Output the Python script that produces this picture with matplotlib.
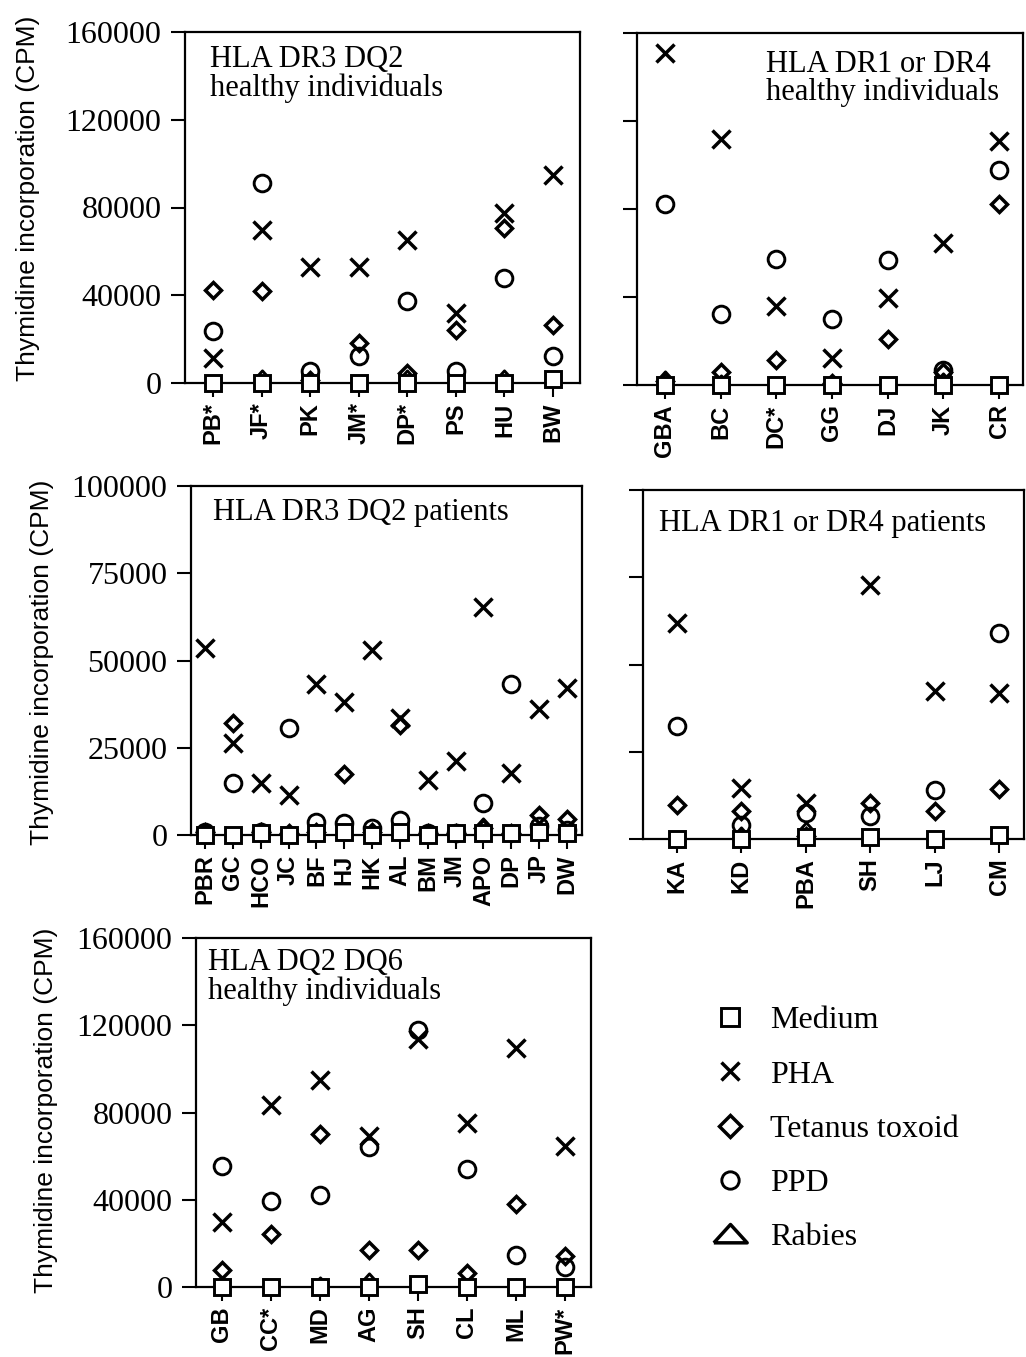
import numpy as np
import matplotlib
matplotlib.use('Agg')
import matplotlib.pyplot as plt
from matplotlib.lines import Line2D
from matplotlib import font_manager as fm

# ---------------- data ----------------
# Panel 1: HLA DR3 DQ2 healthy individuals
p1_names = ['PB*', 'JF*', 'PK', 'JM*', 'DP*', 'PS', 'HU', 'BW']
p1_medium = [0, 0, 0, 0, 0, 0, 0, 1800]
p1_pha = [11400, 69800, 53100, 53100, 65200, 31900, 77400, 94800]
p1_tet = [42500, 42000, 1500, 18200, 4500, 24300, 70500, 26500]
p1_ppd = [23500, 91000, 5500, 12100, 37200, 5500, 47800, 12100]
p1_rab = [500, 3500, 1500, 1000, 3500, 1000, 3500, 1000]

# Panel 2: HLA DR1 or DR4 healthy individuals
p2_names = ['GBA', 'BC', 'DC*', 'GG', 'DJ', 'JK', 'CR']
p2_medium = [0, 0, 0, 0, 0, 0, 0]
p2_pha = [151000, 112000, 36000, 12500, 39400, 64400, 111000]
p2_tet = [2000, 6000, 11500, 1000, 21100, 6000, 82400]
p2_ppd = [82400, 32100, 57300, 29800, 57000, 7000, 97700]
p2_rab = [4000, 2500, 500, 1500, 500, 3000, 1500]

# Panel 3: HLA DR3 DQ2 patients
p3_names = ['PBR', 'GC', 'HCO', 'JC', 'BF', 'HJ', 'HK', 'AL', 'BM', 'JM',
            'APO', 'DP', 'JP', 'DW']
p3_medium = [0, 0, 500, 0, 500, 800, 0, 800, 0, 500, 500, 500, 800, 500]
p3_pha = [53500, 26500, 14800, 11400, 43300, 38100, 53000, 33600, 15900,
          21300, 65400, 17700, 36000, 42100]
p3_tet = [1000, 32200, 1000, 500, 1000, 17500, 1000, 31500, 500, 500,
          2000, 500, 5700, 4700]
p3_ppd = [1000, 14800, 1000, 30600, 3800, 3500, 2000, 4200, 500, 500,
          9200, 43300, 2500, 1500]
p3_rab = [1500, 500, 2000, 1200, 1500, 1000, 500, 500, 500, 500,
          3500, 500, 1000, 500]

# Panel 4: HLA DR1 or DR4 patients
p4_names = ['KA', 'KD', 'PBA', 'SH', 'LJ', 'CM']
p4_medium = [0, 0, 500, 500, 0, 1250]
p4_pha = [61900, 14700, 10400, 72900, 42300, 41900]
p4_tet = [9600, 8000, 1000, 10400, 8000, 14400]
p4_ppd = [32500, 4000, 7500, 6500, 14000, 59000]
p4_rab = [500, 2000, 3500, 1000, 500, 500]

# Panel 5: HLA DQ2 DQ6 healthy individuals
p5_names = ['GB', 'CC*', 'MD', 'AG', 'SH', 'CL', 'ML', 'PW*']
p5_medium = [0, 0, 0, 0, 1500, 0, 0, 0]
p5_pha = [29800, 83600, 95000, 69200, 113800, 75200, 109700, 64500]
p5_tet = [7600, 24400, 70300, 16800, 17100, 6400, 38200, 14000]
p5_ppd = [55300, 39400, 42000, 64200, 117700, 54200, 14500, 9200]
p5_rab = [1000, 500, 2500, 4000, 500, 1500, 1500, 1000]

yticks_160 = [0, 40000, 80000, 120000, 160000]
yticks_100 = [0, 25000, 50000, 75000, 100000]
legend_labels = ['Medium', 'PHA', 'Tetanus toxoid', 'PPD', 'Rabies']
ylabel_text = 'Thymidine incorporation (CPM)'

# ---------------- style ----------------
names_avail = {f.name for f in fm.fontManager.ttflist}
if 'Liberation Sans Narrow' in names_avail:
    SANS = 'Liberation Sans Narrow'
    tick_fs = 20
    ylab_fs = 23
else:
    SANS = 'Liberation Sans'
    tick_fs = 17
    ylab_fs = 19
SERIF = 'Liberation Serif'

W, H = 1026, 1357
DPI = 100
fig = plt.figure(figsize=(W / DPI, H / DPI), dpi=DPI)
fig.patch.set_facecolor('white')

TRI = [(-1, -0.5), (1, -0.5), (0, 0.6), (-1, -0.5)]


def rect_px(left, right, top, bottom):
    return [left / W, 1 - bottom / H, (right - left) / W, (bottom - top) / H]


def panel(rect, names, med, pha, tet, ppd, rab, yticks, xlim, show_ylabels,
          title, tx, ty):
    ax = fig.add_axes(rect)
    x = np.arange(len(names))
    common = dict(ls='none', color='k', clip_on=False)
    ax.plot(x, pha, marker='x', ms=12.5, mew=2.5, zorder=4, **common)
    ax.plot(x, tet, marker='D', ms=8.5, mew=2.5, mfc='none', mec='k', zorder=4, **common)
    ax.plot(x, ppd, marker='o', ms=12, mew=2.1, mfc='none', mec='k', zorder=4, **common)
    ax.plot(x, rab, marker=TRI, ms=11, mew=2.1, mfc='none', mec='k', zorder=4, **common)
    ax.plot(x, med, marker='s', ms=11.5, mew=2.1, mfc='white', mec='k', zorder=5, **common)
    ax.set_xlim(*xlim)
    ax.set_ylim(yticks[0], yticks[-1])
    ax.set_xticks(x)
    ax.set_xticklabels(names, rotation=90, fontfamily=SANS, fontsize=tick_fs,
                       fontweight='bold')
    ax.set_yticks(yticks)
    if show_ylabels:
        ax.set_yticklabels([str(v) for v in yticks], fontfamily=SERIF, fontsize=23)
    else:
        ax.set_yticklabels([])
    ax.tick_params(axis='both', direction='out', length=10, width=1.5, color='k')
    ax.tick_params(axis='y', pad=7)
    ax.tick_params(axis='x', pad=4)
    for s in ax.spines.values():
        s.set_linewidth(1.6)
    ax.text(tx, ty, title, transform=ax.transAxes, ha='left', va='top',
            fontfamily=SERIF, fontsize=22, linespacing=0.95)
    return ax


panel(rect_px(185, 580, 32, 383), p1_names, p1_medium, p1_pha, p1_tet, p1_ppd,
      p1_rab, yticks_160, (-0.576, 7.556), True,
      'HLA DR3 DQ2\nhealthy individuals', 0.063, 0.962)
panel(rect_px(637, 1023, 33, 385), p2_names, p2_medium, p2_pha, p2_tet, p2_ppd,
      p2_rab, yticks_160, (-0.50, 6.43), False,
      'HLA DR1 or DR4\nhealthy individuals', 0.334, 0.952)
panel(rect_px(191, 582, 486, 835), p3_names, p3_medium, p3_pha, p3_tet, p3_ppd,
      p3_rab, yticks_100, (-0.503, 13.54), True,
      'HLA DR3 DQ2 patients', 0.056, 0.965)
panel(rect_px(643, 1024, 490, 839), p4_names, p4_medium, p4_pha, p4_tet, p4_ppd,
      p4_rab, yticks_100, (-0.526, 5.387), False,
      'HLA DR1 or DR4 patients', 0.042, 0.945)
panel(rect_px(196, 591, 938, 1287), p5_names, p5_medium, p5_pha, p5_tet, p5_ppd,
      p5_rab, yticks_160, (-0.524, 7.53), True,
      'HLA DQ2 DQ6\nhealthy individuals', 0.03, 0.97)

# y-axis labels
for (xc, yc) in [(28, 198), (42, 662), (46, 1110)]:
    fig.text(xc / W, 1 - yc / H, ylabel_text, rotation=90, ha='center', va='center',
             fontfamily=SANS, fontsize=ylab_fs)

# legend
handles = [
    Line2D([], [], ls='none', marker='s', ms=12.5, mew=2.1, mfc='white', mec='k'),
    Line2D([], [], ls='none', marker='x', ms=12.5, mew=2.5, color='k'),
    Line2D([], [], ls='none', marker='D', ms=11, mew=2.5, mfc='none', mec='k'),
    Line2D([], [], ls='none', marker='o', ms=12.5, mew=2.1, mfc='none', mec='k'),
    Line2D([], [], ls='none', marker=TRI, ms=24, mew=2.5, mfc='none', mec='k'),
]
leg = fig.legend(handles, legend_labels, loc='upper left',
                 bbox_to_anchor=(714 / W, 1 - 1006 / H), frameon=False,
                 prop={'family': SERIF, 'size': 23}, handlelength=1.0,
                 handletextpad=0.75, labelspacing=0.78, borderpad=0,
                 borderaxespad=0)

fig.savefig('out.png', dpi=DPI, facecolor='white')
